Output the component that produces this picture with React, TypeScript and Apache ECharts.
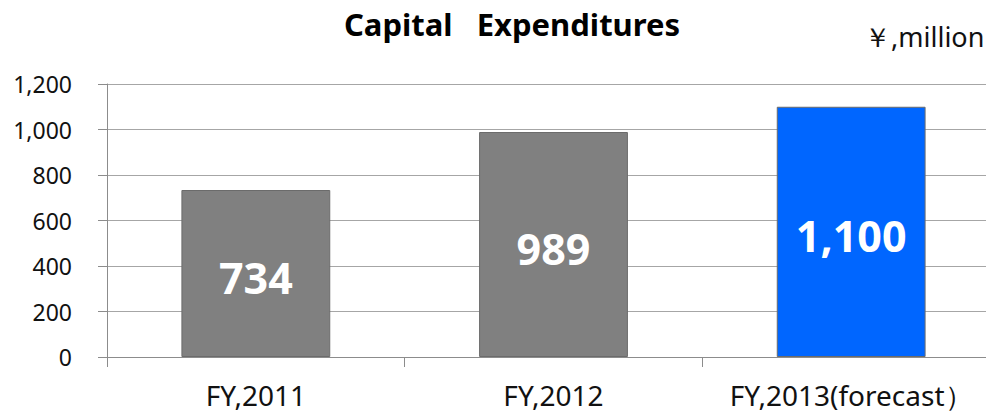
import React, { useEffect, useRef } from "react";
import * as echarts from "echarts";

const categories = ["FY,2011", "FY,2012", "FY,2013(forecast）"];
const values = [734, 989, 1100];
const barColors = ["#808080", "#808080", "#0066FF"];
const yTicks = [0, 200, 400, 600, 800, 1000, 1200];
const titleText = "Capital   Expenditures";
const unitText = "￥,million";

const fmt = (v: number) => v.toLocaleString("en-US");
const FONT = "'Noto Sans', 'Open Sans', sans-serif";

export default function App() {
  const ref = useRef<HTMLDivElement>(null);
  useEffect(() => {
    if (!ref.current) return;
    const chart = echarts.init(ref.current, null, { renderer: "svg" });
    chart.setOption({
      animation: false,
      backgroundColor: "#ffffff",
      textStyle: { fontFamily: FONT },
      title: {
        text: titleText,
        left: 512,
        textAlign: "center",
        top: 8,
        padding: 0,
        textStyle: { fontSize: 31, fontWeight: "bold", color: "#000", fontFamily: FONT },
      },
      graphic: [
        {
          type: "text",
          left: 864,
          top: 23,
          style: { text: unitText, fontSize: 27, fill: "#111", fontFamily: FONT },
        },
      ],
      grid: {
        left: 107,
        top: 84,
        height: 273,
        width: 893,
        containLabel: false,
        outerBoundsMode: "none",
      },
      xAxis: {
        type: "category",
        data: categories,
        axisLine: { show: true, lineStyle: { color: "#8c8c8c", width: 1 } },
        axisTick: { show: true, alignWithLabel: false, length: 10, lineStyle: { color: "#8c8c8c" } },
        axisLabel: { interval: 0, fontSize: 28, color: "#111", margin: 24, fontFamily: FONT },
        splitLine: { show: false },
      },
      yAxis: {
        type: "value",
        min: yTicks[0],
        max: yTicks[yTicks.length - 1],
        interval: yTicks[1] - yTicks[0],
        axisLine: { show: true, lineStyle: { color: "#8c8c8c", width: 1 } },
        axisTick: { show: true, length: 9, lineStyle: { color: "#8c8c8c" } },
        axisLabel: {
          fontSize: 23,
          color: "#111",
          margin: 35,
          fontFamily: FONT,
          formatter: (v: number) => fmt(v),
        },
        splitLine: { show: true, lineStyle: { color: "#a6a6a6", width: 1 } },
      },
      series: [
        {
          type: "bar",
          barWidth: "50%",
          data: values.map((v, i) => ({
            value: v,
            itemStyle: { color: barColors[i], borderColor: "#6b6b6b", borderWidth: 1 },
          })),
          label: {
            show: true,
            position: "inside",
            offset: [0, 4],
            color: "#fff",
            fontSize: 43,
            fontWeight: "bold",
            fontFamily: FONT,
            formatter: (p: any) => fmt(p.value),
          },
        },
      ],
    });
    return () => chart.dispose();
  }, []);
  return (
    <div
      ref={ref}
      style={{ position: "fixed", left: 0, top: 0, width: 986, height: 413 }}
    />
  );
}
